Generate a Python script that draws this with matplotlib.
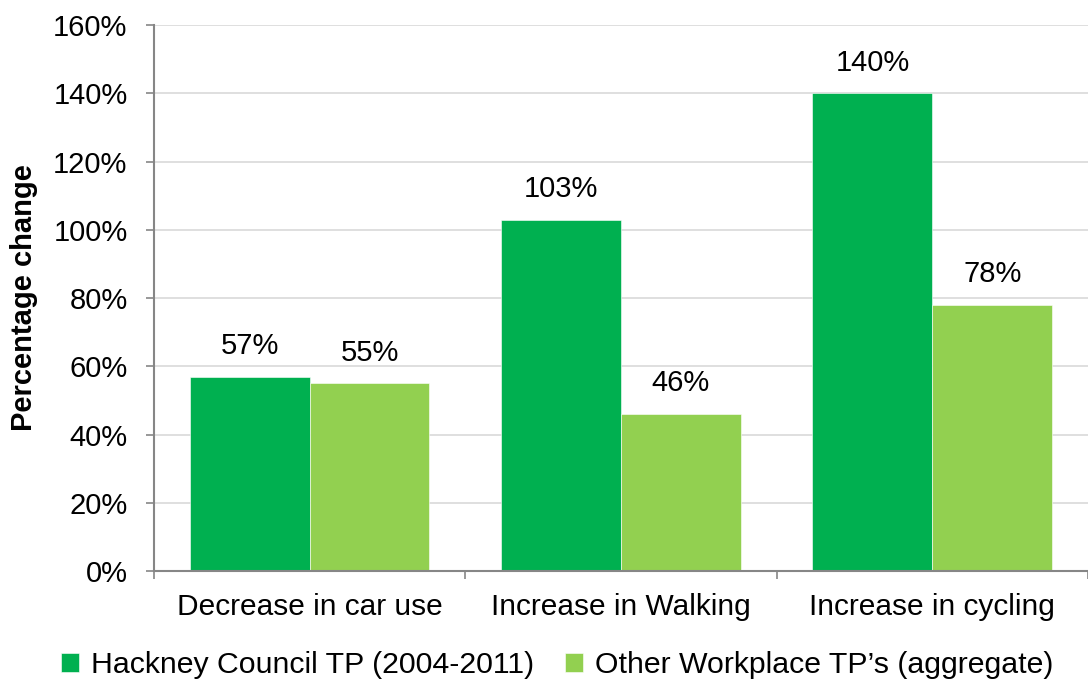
import matplotlib
matplotlib.use("Agg")
import matplotlib.pyplot as plt
import numpy as np
from matplotlib.ticker import FixedLocator, PercentFormatter

plt.rcParams['font.family'] = ['Liberation Sans', 'DejaVu Sans']

categories = ["Decrease in car use", "Increase in Walking", "Increase in cycling"]
series_names = ["Hackney Council TP (2004-2011)", "Other Workplace TP\u2019s (aggregate)"]
hackney = [57, 103, 140]
other = [55, 46, 78]
colors = ["#00B050", "#92D050"]

fig = plt.figure(figsize=(10.88, 6.84), dpi=100)
ax = fig.add_axes([0.1415, 0.165, 0.8585, 0.7985])

x = np.arange(len(categories))
w = 0.385
for i, (vals, col, name) in enumerate(zip([hackney, other], colors, series_names)):
    pos = x + (i - 0.5) * w
    bars = ax.bar(pos, vals, width=w, color=col, label=name, zorder=3,
                  edgecolor="white", linewidth=0.4)
    for b, v in zip(bars, vals):
        ax.annotate(f"{v}%", (b.get_x() + b.get_width() / 2, v),
                    xytext=(0, 12), textcoords="offset points",
                    ha="center", va="bottom", fontsize=21, color="#000000")

ax.set_xlim(-0.5, len(categories) - 0.5)
ax.set_ylim(0, 160)
ax.set_yticks(np.arange(0, 161, 20))
ax.yaxis.set_major_formatter(PercentFormatter(decimals=0))
ax.grid(axis="y", color="#D9D9D9", linewidth=1.2, zorder=0)

# Category labels centered; ticks at category boundaries
ax.set_xticks(x)
ax.set_xticklabels(categories, fontsize=21.5)
ax.tick_params(axis="x", length=0, pad=16)
ax.xaxis.set_minor_locator(FixedLocator(np.arange(-0.5, len(categories), 1.0)))
ax.tick_params(axis="x", which="minor", length=6, width=1.2, color="#868686")
ax.tick_params(axis="y", length=6, width=1.2, color="#868686", labelsize=21, pad=13)

for side in ["top", "right"]:
    ax.spines[side].set_visible(False)
for side in ["left", "bottom"]:
    ax.spines[side].set_color("#868686")
    ax.spines[side].set_linewidth(1.5)
ax.spines["bottom"].set_zorder(4)

ax.set_ylabel("Percentage change", fontsize=21, fontweight="bold")
ax.yaxis.set_label_coords(-0.124, 0.5)

handles, labels = ax.get_legend_handles_labels()
fig.legend(handles, labels, loc="lower center", bbox_to_anchor=(0.512, -0.033), ncol=2,
           frameon=False, fontsize=21.8, handlelength=0.6, handleheight=0.6,
           handletextpad=0.4, columnspacing=1.0)

fig.savefig("out.png", dpi=100)
